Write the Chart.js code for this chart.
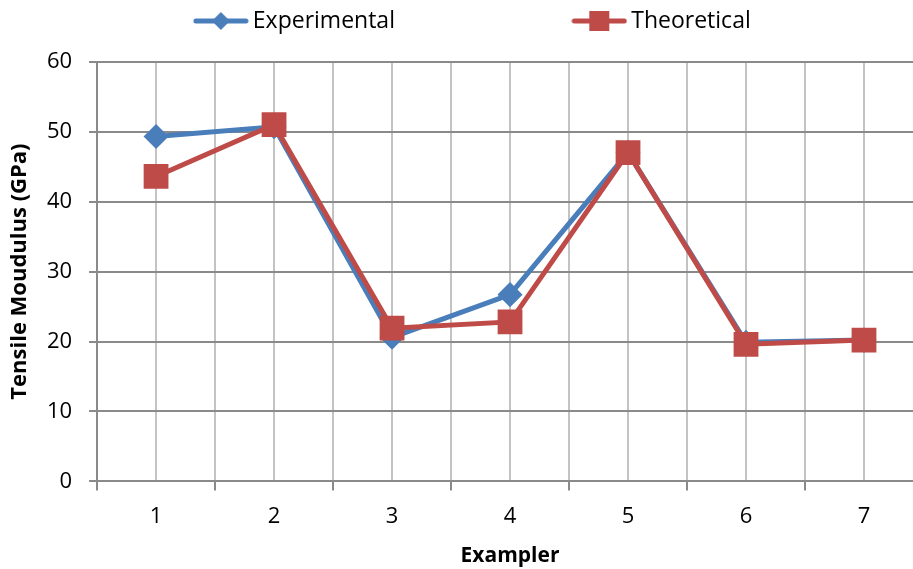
<!DOCTYPE html>
<html>
<head>
<meta charset="utf-8">
<script src="https://cdn.jsdelivr.net/npm/chart.js@4/dist/chart.umd.min.js"></script>
<style>
  html, body { margin: 0; padding: 0; background: #fff; overflow: hidden; }
  #wrap { width: 943px; height: 569px; }
</style>
</head>
<body>
<div id="wrap"><canvas id="chart"></canvas></div>
<script>
// valores
const categories = [1, 2, 3, 4, 5, 6, 7];
const experimental = [49.3, 50.7, 20.6, 26.7, 47.0, 19.9, 20.2];
const theoretical = [43.6, 51.0, 21.9, 22.8, 47.0, 19.6, 20.2];
const yTicks = [0, 10, 20, 30, 40, 50, 60];

const BLUE = '#4a7ebb';
const RED = '#be4b48';
const FONT = "'Open Sans', 'Noto Sans', sans-serif";

// ícone da legenda: linha + marcador
function legendIcon(color, shape) {
    const c = document.createElement('canvas');
    c.width = 56; c.height = 20;
    const g = c.getContext('2d');
    g.strokeStyle = color; g.lineWidth = 5; g.lineCap = 'round';
    g.beginPath(); g.moveTo(3, 10); g.lineTo(53, 10); g.stroke();
    g.fillStyle = color;
    if (shape === 'diamond') {
        g.beginPath(); g.moveTo(28, 1); g.lineTo(37, 10); g.lineTo(28, 19); g.lineTo(19, 10); g.closePath(); g.fill();
    } else {
        g.fillRect(18, 0, 20, 20);
    }
    return c;
}

const toPoints = arr => arr.map((v, i) => ({ x: categories[i], y: v }));

new Chart(document.getElementById('chart'), {
    type: 'line',
    data: {
        datasets: [
            {
                label: 'Theoretical',
                data: toPoints(theoretical),
                borderColor: RED, backgroundColor: RED,
                borderWidth: 5, pointStyle: 'rect', pointRadius: 14, pointHoverRadius: 14,
                order: 0
            },
            {
                label: 'Experimental',
                data: toPoints(experimental),
                borderColor: BLUE, backgroundColor: BLUE,
                borderWidth: 5, pointStyle: 'rectRot', pointRadius: 9, pointHoverRadius: 9,
                order: 1
            }
        ]
    },
    options: {
        responsive: true,
        maintainAspectRatio: false,
        animation: false,
        // o lado direito do gráfico fica cortado no original
        layout: { padding: { left: 9, top: 2, right: 20, bottom: 0 } },
        plugins: {
            tooltip: { enabled: false },
            legend: {
                position: 'top',
                fullSize: false,
                labels: {
                    font: { family: FONT, size: 23 },
                    color: '#000',
                    boxHeight: 20,
                    pointStyleWidth: 41,
                    padding: 7.5,
                    usePointStyle: true,
                    // espaços para afastar/posicionar os itens como no original
                    generateLabels: () => [
                        { text: 'Experimental\u2003\u2003\u2003\u2003\u2003\u2003\u2003\u2002\u2009', pointStyle: legendIcon(BLUE, 'diamond'), fillStyle: BLUE, strokeStyle: BLUE, lineWidth: 0, datasetIndex: 1 },
                        { text: 'Theoretical\u2003\u2003\u2003', pointStyle: legendIcon(RED, 'square'), fillStyle: RED, strokeStyle: RED, lineWidth: 0, datasetIndex: 0 }
                    ]
                }
            },
            // espaço vazio entre a legenda e a área do gráfico
            subtitle: {
                display: true, text: '', weight: 500,
                font: { size: 1 }, padding: { top: 0, bottom: 18 }
            }
        },
        scales: {
            x: {
                type: 'linear',
                min: 0.5, max: 7.5,
                afterBuildTicks: axis => {
                    const t = [];
                    for (let i = 0; i <= categories.length * 2; i++) t.push({ value: 0.5 + i / 2 });
                    axis.ticks = t;
                },
                ticks: {
                    font: { family: FONT, size: 22 }, color: '#000',
                    maxRotation: 0, autoSkip: false, padding: 13,
                    callback: v => Number.isInteger(v) ? String(v) : ''
                },
                grid: {
                    color: '#c3c3c3', lineWidth: 2, tickLength: 9,
                    tickColor: c => Number.isInteger(c.tick && c.tick.value) ? 'rgba(0,0,0,0)' : '#8a8a8a'
                },
                border: { color: '#8a8a8a', width: 2 },
                title: { display: true, text: 'Exampler', font: { family: FONT, size: 21, weight: 'bold' }, color: '#000', padding: { top: 1, bottom: 0 } }
            },
            y: {
                min: 0, max: 60,
                afterBuildTicks: axis => { axis.ticks = yTicks.map(v => ({ value: v })); },
                ticks: { font: { family: FONT, size: 22 }, color: '#000', padding: 17 },
                grid: { color: '#8a8a8a', lineWidth: 2, tickLength: 8 },
                border: { color: '#8a8a8a', width: 2 },
                title: { display: true, text: 'Tensile Moudulus (GPa)', font: { family: FONT, size: 22, weight: 'bold', lineHeight: 0.95 }, color: '#000', padding: { top: 0, bottom: 0 } }
            }
        }
    }
});
</script>
</body>
</html>
